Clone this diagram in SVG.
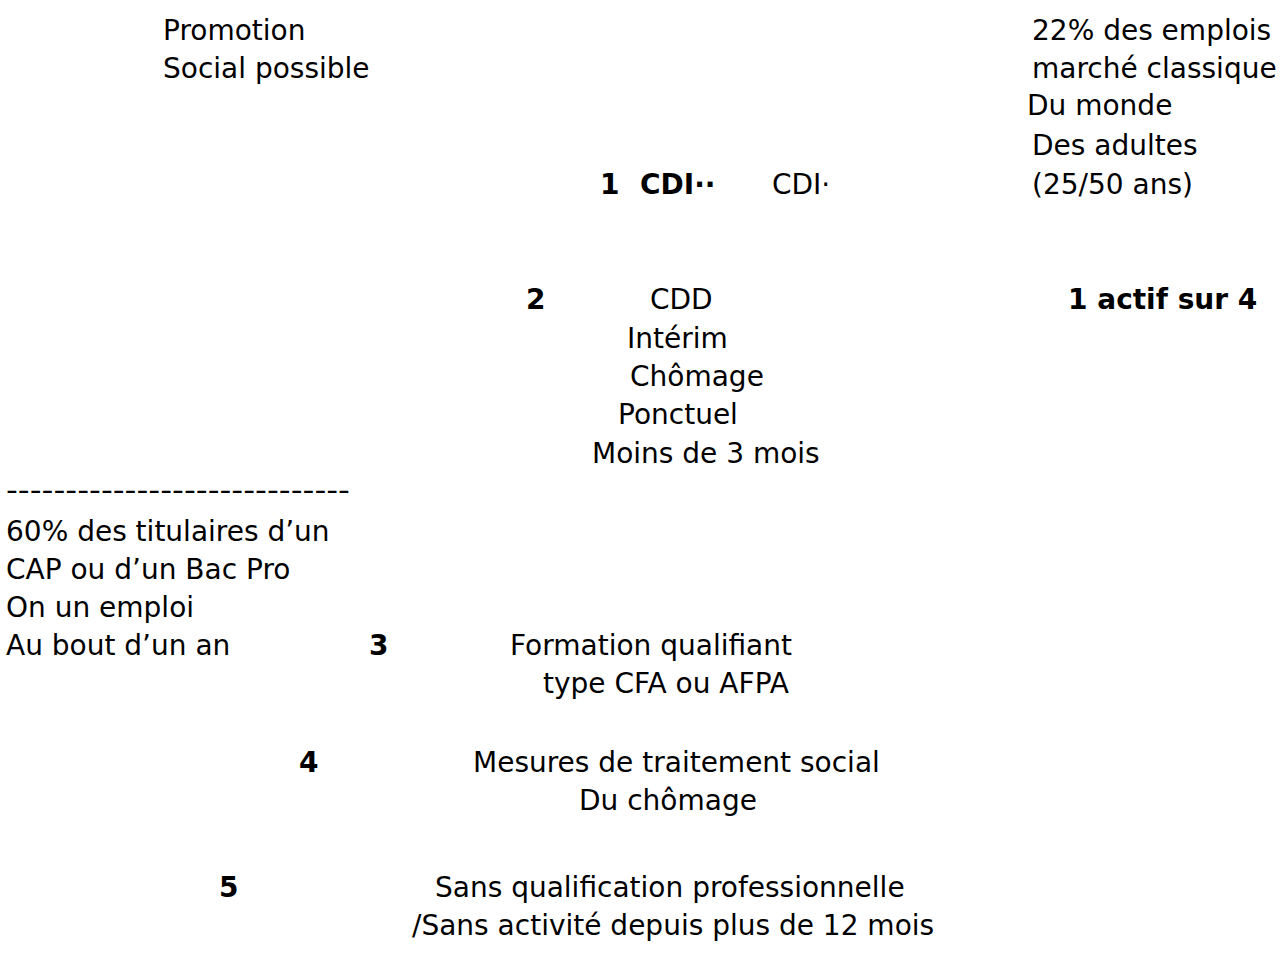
<svg xmlns="http://www.w3.org/2000/svg" width="1287" height="969" viewBox="0 0 1287 969">
<style>
text{font-family:"DejaVu Sans","Verdana",sans-serif;font-size:28px;fill:#000}
.b{font-weight:bold}
</style>
<rect width="1287" height="969" fill="#fff"/>
<g id="promotion">
<text x="163" y="40">Promotion</text>
<text x="163" y="78">Social possible</text>
</g>
<g id="stats-adultes">
<text x="1032" y="40">22% des emplois</text>
<text x="1032" y="78">marché classique</text>
<text x="1027" y="115">Du monde</text>
<text x="1032" y="155">Des adultes</text>
<text x="1032" y="194">(25/50 ans)</text>
</g>
<g id="niveau1">
<text class="b" x="600" y="194">1</text>
<text class="b" x="640" y="194">CDI··</text>
<text x="772" y="194">CDI·</text>
</g>
<g id="niveau2">
<text class="b" x="526" y="309">2</text>
<text x="650" y="309">CDD</text>
<text x="627" y="348">Intérim</text>
<text x="630" y="386">Chômage</text>
<text x="618" y="424">Ponctuel</text>
<text x="592" y="463">Moins de 3 mois</text>
<text class="b" x="1068" y="309">1 actif sur 4</text>
</g>
<g id="stats-cap">
<text x="6" y="500" textLength="344" lengthAdjust="spacingAndGlyphs">-----------------------------</text>
<text x="6" y="541">60% des titulaires d’un</text>
<text x="6" y="579">CAP ou d’un Bac Pro</text>
<text x="6" y="617">On un emploi</text>
<text x="6" y="655">Au bout d’un an</text>
</g>
<g id="niveau3">
<text class="b" x="369" y="655">3</text>
<text x="510" y="655">Formation qualifiant</text>
<text x="543" y="693">type CFA ou AFPA</text>
</g>
<g id="niveau4">
<text class="b" x="299" y="772">4</text>
<text x="473" y="772">Mesures de traitement social</text>
<text x="579" y="810">Du chômage</text>
</g>
<g id="niveau5">
<text class="b" x="219" y="897">5</text>
<text x="435" y="897">Sans qualification professionnelle</text>
<text x="412" y="935">/Sans activité depuis plus de 12 mois</text>
</g>
<g id="connectors"/>
</svg>
